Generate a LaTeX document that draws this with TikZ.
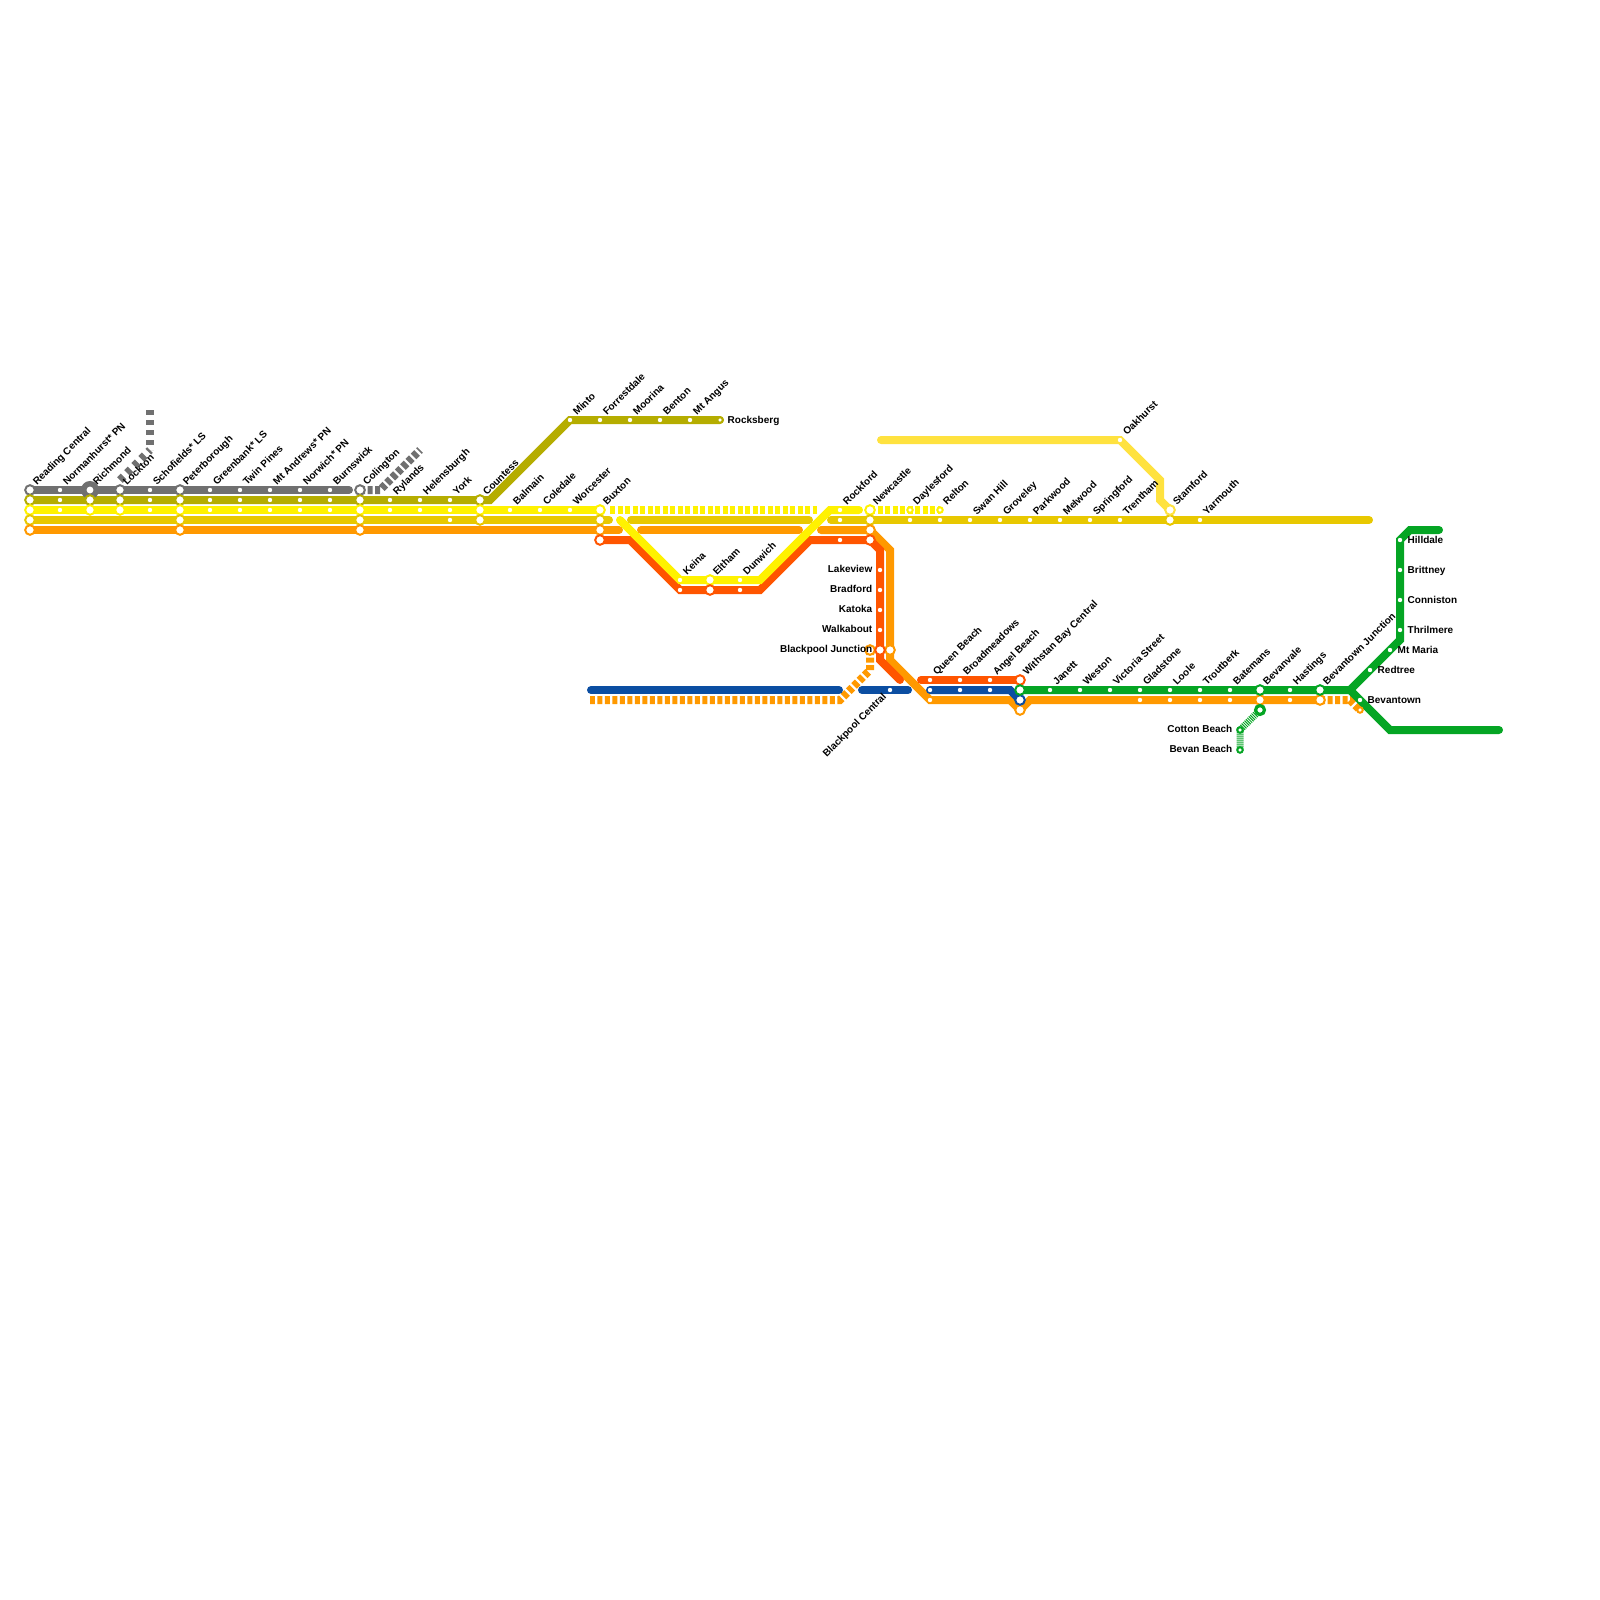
\documentclass[tikz,border=0pt]{standalone}
\usepackage{xcolor}
\usepackage{fontspec}
\setmainfont{Liberation Sans}
\usetikzlibrary{backgrounds}
\definecolor{mapGrey}{HTML}{707070}
\definecolor{mapOlive}{HTML}{B5AD00}
\definecolor{mapYellow}{HTML}{FFF200}
\definecolor{mapGold}{HTML}{E8C800}
\definecolor{mapOrange}{HTML}{FF9900}
\definecolor{mapRed}{HTML}{FF5500}
\definecolor{mapBlue}{HTML}{0B4EA2}
\definecolor{mapGreen}{HTML}{05A524}
\definecolor{mapPale}{HTML}{FFE23F}
\tikzset{
  map line/.style={draw=#1,line width=8pt,line cap=round},
  map dash/.style={draw=#1,line width=8pt,dash pattern=on 5pt off 2.5pt},
  map gap/.style={draw=#1,line width=8pt,dash pattern=on 5pt off 5pt},
  map hatch/.style={draw=#1,line width=7pt,dash pattern=on 1pt off 1pt},
  stop/.style={circle,fill=white,inner sep=0pt,minimum size=4.4pt},
  hub/.style={circle,draw=#1,fill=white,line width=2pt,inner sep=0pt,minimum size=9.6pt},
  small hub/.style={hub=#1,line width=2pt,minimum size=5.5pt},
  big hub/.style={hub=#1,line width=3.2pt,minimum size=8.9pt},
  up tag/.style={font=\fontsize{10}{12}\selectfont\bfseries,inner sep=0pt,xshift=7pt,yshift=4pt,rotate=45,anchor=base west},
  down tag/.style={font=\fontsize{10}{12}\selectfont\bfseries,inner sep=0pt,xshift=-3pt,yshift=-7pt,rotate=45,anchor=base east},
  left tag/.style={font=\fontsize{10}{12}\selectfont\bfseries,inner sep=0pt,text height=7pt,text depth=2pt,xshift=-7.5pt,anchor=east},
  right tag/.style={font=\fontsize{10}{12}\selectfont\bfseries,inner sep=0pt,text height=7pt,text depth=2pt,xshift=7.5pt,yshift=-0.5pt,anchor=west}
}
\begin{document}
\begin{tikzpicture}[x=1pt,y=-1pt]
\useasboundingbox (0,0) rectangle (1600,1600);
\node[hub=mapGrey] (gy30) at (30,490) {}; \node[stop] (gy60) at (60,490) {}; \node[hub=mapGrey,line width=5.5pt,minimum size=12.5pt] (gy90) at (90,490) {}; \node[hub=mapGrey] (gy120) at (120,490) {}; \node[stop] (gy150) at (150,490) {}; \node[hub=mapGrey] (gy180) at (180,490) {};
\node[stop] (gy210) at (210,490) {}; \node[stop] (gy240) at (240,490) {}; \node[stop] (gy270) at (270,490) {}; \node[stop] (gy300) at (300,490) {}; \node[stop] (gy330) at (330,490) {}; \node[hub=mapGrey] (gy360) at (360,490) {};
\coordinate (gyEnd) at (349,490); \coordinate (gyTop) at (150,410); \coordinate (gyKnee) at (150,450); \coordinate (gyLow) at (120,480); \coordinate (gyFlat) at (380,490); \coordinate (gyFar) at (420,450);

\node[hub=mapOlive] (ol30) at (30,500) {}; \node[stop] (ol60) at (60,500) {}; \node[hub=mapOlive] (ol90) at (90,500) {}; \node[hub=mapOlive] (ol120) at (120,500) {}; \node[stop] (ol150) at (150,500) {}; \node[hub=mapOlive] (ol180) at (180,500) {};
\node[stop] (ol210) at (210,500) {}; \node[stop] (ol240) at (240,500) {}; \node[stop] (ol270) at (270,500) {}; \node[stop] (ol300) at (300,500) {}; \node[stop] (ol330) at (330,500) {}; \node[hub=mapOlive] (ol360) at (360,500) {};
\node[stop] (ol390) at (390,500) {}; \node[stop] (ol420) at (420,500) {}; \node[stop] (ol450) at (450,500) {}; \node[hub=mapOlive] (ol480) at (480,500) {}; \coordinate (olBend) at (490,500);
\node[stop] (ol570) at (570,420) {}; \node[stop] (ol600) at (600,420) {}; \node[stop] (ol630) at (630,420) {}; \node[stop] (ol660) at (660,420) {}; \node[stop] (ol690) at (690,420) {}; \node[small hub=mapOlive] (ol720) at (720,420) {};

\node[hub=mapYellow] (ye30) at (30,510) {}; \node[stop] (ye60) at (60,510) {}; \node[hub=mapYellow] (ye90) at (90,510) {}; \node[hub=mapYellow] (ye120) at (120,510) {}; \node[stop] (ye150) at (150,510) {}; \node[hub=mapYellow] (ye180) at (180,510) {};
\node[stop] (ye210) at (210,510) {}; \node[stop] (ye240) at (240,510) {}; \node[stop] (ye270) at (270,510) {}; \node[stop] (ye300) at (300,510) {}; \node[stop] (ye330) at (330,510) {}; \node[hub=mapYellow] (ye360) at (360,510) {};
\node[stop] (ye390) at (390,510) {}; \node[stop] (ye420) at (420,510) {}; \node[stop] (ye450) at (450,510) {}; \node[hub=mapYellow] (ye480) at (480,510) {}; \node[stop] (ye510) at (510,510) {}; \node[stop] (ye540) at (540,510) {}; \node[stop] (ye570) at (570,510) {}; \node[hub=mapYellow] (ye600) at (600,510) {};
\node[stop] (ye680) at (680,580) {}; \node[hub=mapYellow] (ye710) at (710,580) {}; \node[stop] (ye740) at (740,580) {}; \node[stop] (ye840) at (840,510) {}; \node[hub=mapYellow] (ye870) at (870,510) {}; \node[small hub=mapYellow] (ye910) at (910,510) {}; \node[small hub=mapYellow] (ye940) at (940,510) {};
\coordinate (yeDashA) at (610,510); \coordinate (yeDashB) at (817,510); \coordinate (yeStart) at (620,520); \coordinate (yeBendA) at (760,580); \coordinate (yeBendB) at (830,510); \coordinate (yeEnd) at (859,510);

\node[hub=mapGold] (au30) at (30,520) {}; \node[hub=mapGold] (au180) at (180,520) {}; \node[hub=mapGold] (au360) at (360,520) {}; \node[stop] (au450) at (450,520) {}; \node[hub=mapGold] (au480) at (480,520) {}; \node[hub=mapGold] (au600) at (600,520) {};
\node[stop] (au840) at (840,520) {}; \node[hub=mapGold] (au870) at (870,520) {}; \node[stop] (au910) at (910,520) {}; \node[stop] (au940) at (940,520) {}; \node[stop] (au970) at (970,520) {}; \node[stop] (au1000) at (1000,520) {}; \node[stop] (au1030) at (1030,520) {}; \node[stop] (au1060) at (1060,520) {};
\node[stop] (au1090) at (1090,520) {}; \node[stop] (au1120) at (1120,520) {}; \node[hub=mapGold] (au1170) at (1170,520) {}; \node[stop] (au1200) at (1200,520) {};
\coordinate (auEndA) at (609,520); \coordinate (auMidA) at (631,520); \coordinate (auMidB) at (809,520); \coordinate (auEndB) at (831,520); \coordinate (auEndC) at (1369,520);

\node[hub=mapOrange] (or30) at (30,530) {}; \node[hub=mapOrange] (or180) at (180,530) {}; \node[hub=mapOrange] (or360) at (360,530) {}; \node[hub=mapOrange] (or600) at (600,530) {}; \node[hub=mapOrange] (or870) at (870,530) {}; \node[hub=mapOrange] (or890) at (890,650) {}; \node[hub=mapOrange] (orJunction) at (870,650) {};
\node[stop] (or930) at (930,700) {}; \node[hub=mapOrange] (or1020) at (1020,710) {}; \node[stop] (or1140) at (1140,700) {}; \node[stop] (or1170) at (1170,700) {}; \node[stop] (or1200) at (1200,700) {}; \node[stop] (or1230) at (1230,700) {}; \node[hub=mapOrange] (or1260) at (1260,700) {}; \node[stop] (or1290) at (1290,700) {}; \node[hub=mapOrange] (or1320) at (1320,700) {}; \node[small hub=mapOrange] (or1360) at (1360,710) {};
\coordinate (orEndA) at (619,530); \coordinate (orMidA) at (641,530); \coordinate (orMidB) at (799,530); \coordinate (orEndB) at (821,530); \coordinate (orBendA) at (890,550); \coordinate (orBendB) at (890,660); \coordinate (orBendC) at (1010,700); \coordinate (orBendD) at (1030,700);
\coordinate (orDashA) at (870,670); \coordinate (orDashB) at (840,700); \coordinate (orDashC) at (590,700); \coordinate (orDashD) at (1350,700);

\node[hub=mapRed] (re600) at (600,540) {}; \node[stop] (re680) at (680,590) {}; \node[hub=mapRed] (re710) at (710,590) {}; \node[stop] (re740) at (740,590) {}; \node[stop] (re840) at (840,540) {}; \node[hub=mapRed] (re870) at (870,540) {};
\node[stop] (re570) at (880,570) {}; \node[stop] (re590) at (880,590) {}; \node[stop] (re610) at (880,610) {}; \node[stop] (re630) at (880,630) {}; \node[hub=mapRed] (re650) at (880,650) {};
\node[stop] (re930) at (930,680) {}; \node[stop] (re960) at (960,680) {}; \node[stop] (re990) at (990,680) {}; \node[hub=mapRed] (re1020) at (1020,680) {};
\coordinate (reBendA) at (630,540); \coordinate (reBendB) at (760,590); \coordinate (reBendC) at (810,540); \coordinate (reBendD) at (880,550); \coordinate (reBendE) at (880,660); \coordinate (reEnd) at (900,680); \coordinate (reStart) at (921,680);

\node[stop] (bl890) at (890,690) {}; \node[stop] (bl930) at (930,690) {}; \node[stop] (bl960) at (960,690) {}; \node[stop] (bl990) at (990,690) {}; \node[hub=mapBlue] (bl1020) at (1020,700) {};
\coordinate (blStart) at (591,690); \coordinate (blEnd) at (839,690); \coordinate (blMidA) at (862,690); \coordinate (blMidB) at (908,690); \coordinate (blBend) at (1010,690);

\node[stop] (ly1120) at (1120,440) {}; \node[hub=mapPale] (ly1170) at (1170,510) {};
\coordinate (lyStart) at (881,440); \coordinate (lyBendA) at (1160,480); \coordinate (lyBendB) at (1160,500);

\node[hub=mapGreen] (gr1020) at (1020,690) {}; \node[stop] (gr1050) at (1050,690) {}; \node[stop] (gr1080) at (1080,690) {}; \node[stop] (gr1110) at (1110,690) {}; \node[stop] (gr1140) at (1140,690) {}; \node[stop] (gr1170) at (1170,690) {}; \node[stop] (gr1200) at (1200,690) {}; \node[stop] (gr1230) at (1230,690) {}; \node[hub=mapGreen] (gr1260) at (1260,690) {}; \node[stop] (gr1290) at (1290,690) {}; \node[hub=mapGreen] (gr1320) at (1320,690) {};
\node[big hub=mapGreen] (grBeach) at (1260,710) {}; \node[small hub=mapGreen] (grCotton) at (1240,730) {}; \node[small hub=mapGreen] (grBevan) at (1240,750) {};
\node[stop] (gr1360) at (1360,700) {}; \node[stop] (gr1370) at (1370,670) {}; \node[stop] (gr1390) at (1390,650) {}; \node[stop] (gr630) at (1400,630) {}; \node[stop] (gr600) at (1400,600) {}; \node[stop] (gr570) at (1400,570) {}; \node[stop] (gr540) at (1400,540) {};
\coordinate (grFork) at (1350,690); \coordinate (grBendA) at (1400,640); \coordinate (grBendB) at (1410,530); \coordinate (grEndA) at (1439,530); \coordinate (grBendC) at (1390,730); \coordinate (grEndB) at (1499,730);

\node[up tag] (nReading) at (gy30) {Reading Central}; \node[up tag] (nNormanhurst) at (gy60) {Normanhurst* PN}; \node[up tag] (nRichmond) at (gy90) {Richmond}; \node[up tag] (nLockton) at (gy120) {Lockton}; \node[up tag] (nSchofields) at (gy150) {Schofields* LS}; \node[up tag] (nPeterborough) at (gy180) {Peterborough};
\node[up tag] (nGreenbank) at (gy210) {Greenbank* LS}; \node[up tag] (nTwinPines) at (gy240) {Twin Pines}; \node[up tag] (nAndrews) at (gy270) {Mt Andrews* PN}; \node[up tag] (nNorwich) at (gy300) {Norwich* PN}; \node[up tag] (nBurnswick) at (gy330) {Burnswick}; \node[up tag] (nColington) at (gy360) {Colington};
\node[up tag] (nRylands) at (ol390) {Rylands}; \node[up tag] (nHelensburgh) at (ol420) {Helensburgh}; \node[up tag] (nYork) at (ol450) {York}; \node[up tag] (nCountess) at (ol480) {Countess};
\node[up tag] (nMinto) at (ol570) {Minto}; \node[up tag] (nForrestdale) at (ol600) {Forrestdale}; \node[up tag] (nMoorina) at (ol630) {Moorina}; \node[up tag] (nBenton) at (ol660) {Benton}; \node[up tag] (nAngus) at (ol690) {Mt Angus}; \node[right tag] (nRocksberg) at (ol720) {Rocksberg};
\node[up tag] (nBalmain) at (ye510) {Balmain}; \node[up tag] (nColedale) at (ye540) {Coledale}; \node[up tag] (nWorcester) at (ye570) {Worcester}; \node[up tag] (nBuxton) at (ye600) {Buxton};
\node[up tag] (nKeina) at (ye680) {Keina}; \node[up tag] (nEltham) at (ye710) {Eltham}; \node[up tag] (nDunwich) at (ye740) {Dunwich}; \node[up tag] (nRockford) at (ye840) {Rockford}; \node[up tag] (nNewcastle) at (ye870) {Newcastle}; \node[up tag] (nDaylesford) at (ye910) {Daylesford}; \node[up tag] (nRelton) at (ye940) {Relton};
\node[up tag] (nSwanHill) at (au970) {Swan Hill}; \node[up tag] (nGroveley) at (au1000) {Groveley}; \node[up tag] (nParkwood) at (au1030) {Parkwood}; \node[up tag] (nMelwood) at (au1060) {Melwood}; \node[up tag] (nSpringford) at (au1090) {Springford}; \node[up tag] (nTrentham) at (au1120) {Trentham}; \node[up tag] (nStamford) at (ly1170) {Stamford}; \node[up tag] (nYarmouth) at (au1200) {Yarmouth}; \node[up tag] (nOakhurst) at (ly1120) {Oakhurst};
\node[left tag] (nLakeview) at (re570) {Lakeview}; \node[left tag] (nBradford) at (re590) {Bradford}; \node[left tag] (nKatoka) at (re610) {Katoka}; \node[left tag] (nWalkabout) at (re630) {Walkabout}; \node[left tag] (nJunction) at (re650) {Blackpool Junction};
\node[down tag] (nCentral) at (bl890) {Blackpool Central}; \node[up tag] (nQueen) at (re930) {Queen Beach}; \node[up tag] (nBroad) at (re960) {Broadmeadows}; \node[up tag] (nAngel) at (re990) {Angel Beach}; \node[up tag] (nWithstan) at (re1020) {Withstan Bay Central};
\node[up tag] (nJanett) at (gr1050) {Janett}; \node[up tag] (nWeston) at (gr1080) {Weston}; \node[up tag] (nVictoria) at (gr1110) {Victoria Street}; \node[up tag] (nGladstone) at (gr1140) {Gladstone}; \node[up tag] (nLoole) at (gr1170) {Loole}; \node[up tag] (nTroutberk) at (gr1200) {Troutberk}; \node[up tag] (nBatemans) at (gr1230) {Batemans}; \node[up tag] (nBevanvale) at (gr1260) {Bevanvale}; \node[up tag] (nHastings) at (gr1290) {Hastings}; \node[up tag] (nBevJunction) at (gr1320) {Bevantown Junction};
\node[left tag] (nCotton) at (grCotton) {Cotton Beach}; \node[left tag] (nBevan) at (grBevan) {Bevan Beach};
\node[right tag] (nBevantown) at (gr1360) {Bevantown}; \node[right tag] (nRedtree) at (gr1370) {Redtree}; \node[right tag] (nMaria) at (gr1390) {Mt Maria}; \node[right tag] (nThrilmere) at (gr630) {Thrilmere}; \node[right tag] (nConniston) at (gr600) {Conniston}; \node[right tag] (nBrittney) at (gr570) {Brittney}; \node[right tag] (nHilldale) at (gr540) {Hilldale};

\begin{scope}[on background layer]
\draw[map line=mapGrey] (gy30.center) -- (gyEnd);
\draw[map gap=mapGrey] (gyTop) -- (gyKnee);
\draw[map gap=mapGrey] (gyLow) -- (gyKnee);
\draw[map dash=mapGrey] (gy360.center) -- (gyFlat) -- (gyFar);
\draw[map line=mapOlive] (ol30.center) -- (olBend) -- (ol570.center) -- (ol720.center);
\draw[map line=mapGold] (au30.center) -- (auEndA);
\draw[map line=mapGold] (auMidA) -- (auMidB);
\draw[map line=mapGold] (auEndB) -- (auEndC);
\draw[map line=mapOrange] (or30.center) -- (orEndA);
\draw[map line=mapOrange] (orMidA) -- (orMidB);
\draw[map line=mapOrange] (orEndB) -- (or870.center) -- (orBendA) -- (orBendB) -- (or930.center) -- (orBendC) -- (or1020.center) -- (orBendD) -- (or1320.center);
\draw[map dash=mapOrange] (orJunction.center) -- (orDashA) -- (orDashB) -- (orDashC);
\draw[map dash=mapOrange] (or1320.center) -- (orDashD) -- (or1360.center);
\draw[map line=mapRed] (re600.center) -- (reBendA) -- (re680.center) -- (reBendB) -- (reBendC) -- (re870.center) -- (reBendD) -- (reBendE) -- (reEnd);
\draw[map line=mapRed] (reStart) -- (re1020.center);
\draw[map line=mapYellow] (ye30.center) -- (ye600.center);
\draw[map dash=mapYellow] (yeDashA) -- (yeDashB);
\draw[map line=mapYellow] (yeStart) -- (ye680.center) -- (yeBendA) -- (yeBendB) -- (yeEnd);
\draw[map dash=mapYellow] (ye870.center) -- (ye940.center);
\draw[map line=mapBlue] (blStart) -- (blEnd);
\draw[map line=mapBlue] (blMidA) -- (blMidB);
\draw[map line=mapBlue] (bl930.center) -- (blBend) -- (bl1020.center);
\draw[map line=mapPale] (lyStart) -- (ly1120.center) -- (lyBendA) -- (lyBendB) -- (ly1170.center);
\draw[map line=mapGreen] (gr1020.center) -- (grFork) -- (grBendA) -- (gr540.center) -- (grBendB) -- (grEndA);
\draw[map line=mapGreen] (grFork) -- (grBendC) -- (grEndB);
\draw[map hatch=mapGreen] (grBeach.center) -- (grCotton.center) -- (grBevan.center);
\end{scope}
\end{tikzpicture}
\end{document}
